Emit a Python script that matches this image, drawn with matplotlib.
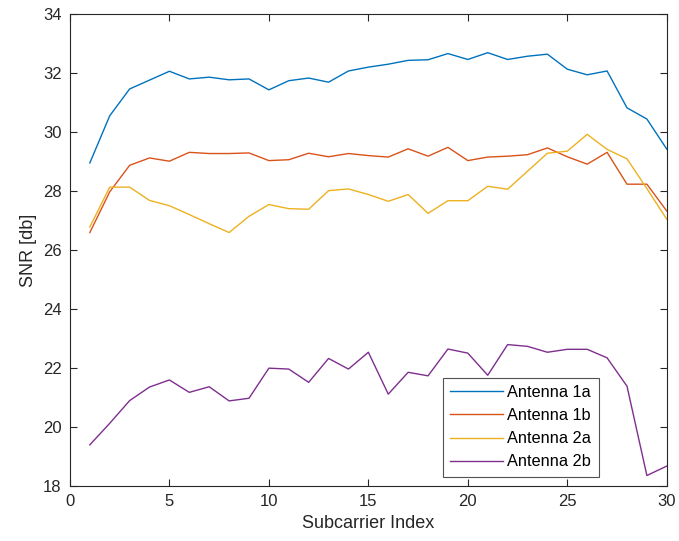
import numpy as np
import matplotlib
matplotlib.use("Agg")
import matplotlib.pyplot as plt

subcarrier = list(range(1, 31))

snr_1a = [28.95, 30.55, 31.46, 31.76, 32.06, 31.80, 31.86, 31.77, 31.80, 31.43,
          31.74, 31.83, 31.69, 32.07, 32.20, 32.30, 32.43, 32.45, 32.66, 32.46,
          32.69, 32.46, 32.57, 32.64, 32.13, 31.94, 32.07, 30.82, 30.44, 29.42]
snr_1b = [26.59, 27.97, 28.87, 29.12, 29.01, 29.31, 29.27, 29.27, 29.29, 29.03,
          29.06, 29.28, 29.16, 29.27, 29.20, 29.15, 29.43, 29.18, 29.48, 29.03,
          29.15, 29.18, 29.23, 29.46, 29.16, 28.91, 29.31, 28.23, 28.23, 27.32]
snr_2a = [26.78, 28.13, 28.13, 27.68, 27.50, 27.20, 26.89, 26.59, 27.14, 27.54,
          27.40, 27.38, 28.01, 28.07, 27.88, 27.65, 27.88, 27.24, 27.67, 27.67,
          28.16, 28.06, 28.67, 29.28, 29.35, 29.92, 29.41, 29.09, 28.08, 27.04]
snr_2b = [19.39, 20.12, 20.89, 21.35, 21.59, 21.17, 21.36, 20.88, 20.97, 21.99,
          21.96, 21.51, 22.32, 21.96, 22.53, 21.11, 21.85, 21.73, 22.64, 22.50,
          21.75, 22.79, 22.73, 22.53, 22.63, 22.63, 22.34, 21.38, 18.35, 18.67]

labels = ["Antenna 1a", "Antenna 1b", "Antenna 2a", "Antenna 2b"]
colors = [(0, 0.447, 0.741), (0.85, 0.325, 0.098),
          (0.929, 0.694, 0.125), (0.494, 0.184, 0.556)]

plt.rcParams['font.family'] = ['Liberation Sans', 'DejaVu Sans']

fig = plt.figure(figsize=(6.79, 5.41), dpi=100)
ax = fig.add_axes([0.103, 0.102, 0.879, 0.872])

for series, lab, col in zip([snr_1a, snr_1b, snr_2a, snr_2b], labels, colors):
	ax.plot(subcarrier, series, color=col, linewidth=1.0, label=lab)

ax.set_xlim(0, 30)
ax.set_ylim(18, 34)
ax.set_xticks(range(0, 31, 5))
ax.set_yticks(range(18, 35, 2))

gray = (0.15, 0.15, 0.15)
for sp in ax.spines.values():
	sp.set_color(gray)
	sp.set_linewidth(0.8)
ax.tick_params(direction='in', top=True, right=True, length=5, width=0.8,
               colors=gray, labelsize=12, pad=6)

ax.set_xlabel("Subcarrier Index", fontsize=13, color=gray)
ax.set_ylabel("SNR [db]", fontsize=13, color=gray)

# legend box placed where the original sits (lower right, a bit in from the edge)
leg = ax.legend(loc='lower right', bbox_to_anchor=(0.886, 0.019), borderaxespad=0,
                fontsize=11.8, frameon=True, fancybox=False, handlelength=3.2,
                borderpad=0.45, labelspacing=0.5, handletextpad=0.3)
leg.get_frame().set_edgecolor(gray)
leg.get_frame().set_linewidth(0.8)

fig.savefig("out.png", dpi=100)
